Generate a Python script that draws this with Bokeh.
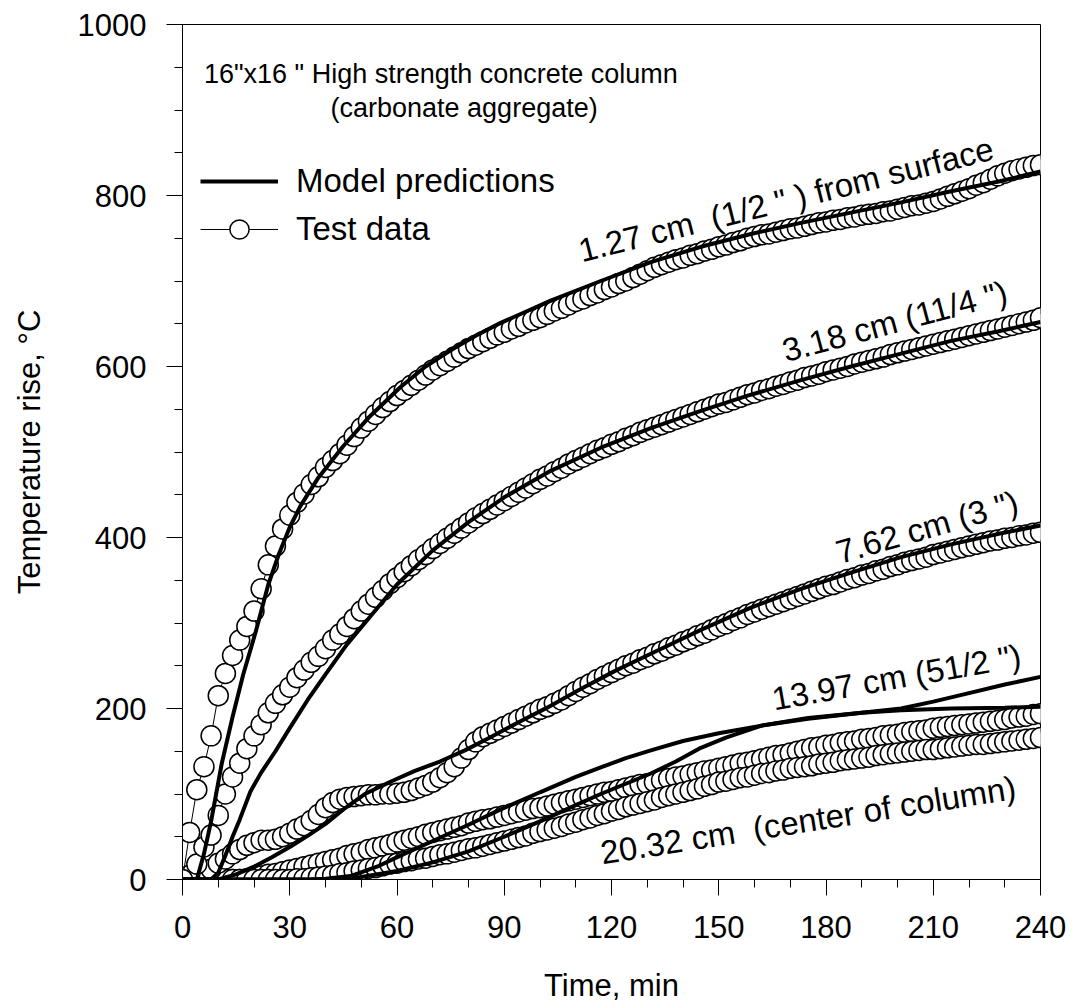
from bokeh.plotting import figure
from bokeh.models import Label, Legend, LegendItem, FixedTicker, Range1d
from bokeh.embed import file_html
from bokeh.resources import INLINE

FONT = "Liberation Sans"

# ---- data -------------------------------------------------------------
time = list(range(0, 241, 2))

test_127 = [0, 55, 105, 132, 168, 215, 241, 262, 280, 296,
            314, 340, 368, 390, 410, 426, 441, 451, 462, 471,
            482, 490, 498, 508, 518, 528, 536, 544, 552, 559,
            566, 572, 578, 584, 590, 596, 601, 606, 611, 616,
            621, 625, 629, 633, 637, 640, 644, 647, 651, 654,
            657, 661, 665, 668, 672, 676, 679, 683, 686, 690,
            693, 697, 700, 704, 708, 712, 716, 719, 722, 725,
            727, 730, 732, 735, 737, 740, 742, 745, 747, 750,
            752, 754, 755, 757, 759, 761, 762, 764, 766, 768,
            769, 771, 772, 774, 775, 777, 778, 779, 781, 782,
            784, 786, 788, 789, 791, 793, 796, 799, 802, 805,
            808, 812, 815, 819, 823, 826, 829, 831, 833, 835,
            836]

test_318 = [0, 5, 18, 38, 52, 75, 100, 120, 136, 153,
            168, 181, 195, 206, 216, 225, 236, 245, 254, 261,
            270, 280, 287, 296, 305, 314, 322, 330, 338, 346,
            353, 360, 367, 374, 380, 387, 393, 399, 405, 411,
            417, 423, 428, 433, 438, 443, 448, 453, 458, 463,
            468, 472, 477, 481, 486, 490, 494, 498, 502, 505,
            509, 512, 516, 519, 523, 526, 529, 532, 535, 538,
            541, 544, 547, 550, 553, 556, 558, 561, 564, 567,
            569, 572, 574, 577, 579, 582, 584, 587, 589, 591,
            594, 596, 598, 600, 603, 605, 607, 609, 611, 614,
            616, 618, 620, 622, 624, 626, 628, 630, 632, 634,
            636, 638, 640, 642, 644, 646, 648, 650, 652, 654,
            657]

test_762 = [0, 0, 2, 5, 12, 19, 24, 30, 35, 40,
            43, 46, 46, 47, 50, 54, 59, 63, 69, 76,
            84, 90, 94, 96, 97, 98, 99, 99, 100, 100,
            101, 102, 104, 107, 110, 114, 119, 125, 132, 142,
            152, 161, 167, 171, 175, 179, 183, 187, 191, 195,
            199, 202, 206, 210, 215, 220, 225, 229, 234, 238,
            242, 246, 250, 253, 257, 260, 264, 267, 271, 274,
            278, 281, 285, 288, 292, 296, 299, 303, 306, 310,
            313, 316, 319, 322, 325, 328, 331, 334, 337, 340,
            343, 345, 348, 351, 353, 356, 358, 361, 363, 366,
            368, 371, 373, 375, 377, 380, 382, 384, 386, 388,
            390, 392, 394, 396, 397, 399, 400, 402, 403, 405,
            406]

test_1397 = [0, 0, 0, 0, 0, 0, 0, 0, 0, 1,
             3, 4, 6, 7, 9, 11, 13, 15, 17, 19,
             21, 23, 25, 28, 30, 32, 35, 37, 39, 41,
             44, 46, 48, 50, 53, 55, 57, 59, 61, 63,
             66, 68, 70, 71, 73, 75, 77, 79, 81, 83,
             84, 86, 88, 90, 92, 94, 96, 98, 100, 102,
             103, 105, 107, 109, 111, 112, 114, 116, 118, 120,
             121, 123, 125, 127, 128, 130, 132, 134, 136, 137,
             139, 141, 143, 145, 146, 148, 150, 152, 154, 155,
             157, 158, 160, 161, 162, 164, 165, 166, 168, 169,
             170, 172, 173, 174, 175, 177, 178, 179, 180, 181,
             182, 183, 184, 185, 186, 187, 189, 190, 191, 193,
             194]

test_2032 = [0, 0, 0, 0, 0, 0, 0, 0, 0, 0,
             0, 0, 0, 0, 0, 0, 1, 1, 2, 3,
             4, 5, 7, 8, 10, 11, 13, 14, 16, 18,
             19, 21, 22, 24, 25, 27, 29, 30, 32, 34,
             36, 37, 39, 41, 43, 45, 47, 49, 51, 54,
             56, 58, 60, 62, 65, 67, 70, 72, 75, 77,
             80, 82, 85, 87, 89, 91, 93, 96, 98, 100,
             102, 104, 106, 109, 111, 114, 115, 117, 119, 120,
             122, 124, 125, 127, 128, 130, 131, 132, 133, 135,
             136, 137, 139, 140, 141, 142, 143, 145, 146, 147,
             148, 149, 150, 151, 152, 152, 153, 154, 155, 156,
             157, 158, 158, 159, 160, 161, 162, 163, 164, 165,
             166]

model_127_t = [0, 4, 6, 8, 11, 14, 17, 20.5, 24, 27, 30, 33, 38, 45, 52, 61, 68, 75, 82, 89,
               96, 103, 117, 131, 145, 159, 173, 187, 201, 215, 228, 240]
model_127 = [0, 0, 30, 68, 136, 190, 240, 290, 345, 381, 412, 437, 470, 507, 540, 576, 600, 619,
             636, 651, 664, 677, 700, 722, 740, 755, 768, 780, 792, 805, 816, 828]

model_318_t = [0, 8, 10, 12, 14, 16, 19, 22, 26, 30, 35, 40, 46, 52, 60, 70, 80, 90,
               103, 117, 131, 145, 159, 173, 187, 201, 215, 228, 240]
model_318 = [0, 0, 8, 28, 50, 70, 103, 125, 150, 177, 210, 240, 275, 305, 345, 385, 418, 447,
             478, 505, 528, 548, 567, 584, 600, 615, 630, 641, 652]

model_762_t = [0, 10, 15, 20, 25, 30, 35, 40, 45, 51, 58, 65, 72, 79, 86, 94, 102, 111,
               121, 131, 145, 159, 173, 187, 201, 215, 228, 240]
model_762 = [0, 0, 6, 15, 26, 38, 51, 65, 82, 100, 114, 127, 138, 151, 166, 184, 201, 222,
             244, 264, 292, 318, 340, 359, 377, 392, 404, 414]

model_1397_t = [0, 35, 40, 47, 55, 62, 70, 80, 89, 100, 110, 117, 124, 131, 140, 150, 162,
                175, 190, 201, 210, 220, 230, 240]
model_1397 = [0, 0, 1, 4, 16, 30, 45, 64, 82, 102, 120, 131, 142, 151, 162, 171, 180,
              188, 195, 200, 208, 218, 228, 237]

model_2032_t = [0, 40, 50, 60, 70, 80, 90, 100, 110, 117, 124, 131, 138, 145, 152, 162,
                175, 190, 201, 215, 230, 240]
model_2032 = [0, 0, 3, 10, 20, 33, 50, 68, 87, 100, 112, 124, 138, 154, 166, 180,
              189, 195, 198, 200, 201, 202]

x_ticks = [0, 30, 60, 90, 120, 150, 180, 210, 240]
x_minor = list(range(0, 241, 10))
y_ticks = [0, 200, 400, 600, 800, 1000]
y_minor = list(range(0, 1001, 50))

NB = "\u00a0"
# label text, anchor (time, temperature), angle in degrees
curve_labels = [
    ("1.27 cm " + NB + "(1/2 \" ) from surface", 111, 735, 14),
    ("3.18 cm (11/4 \")", 168, 618, 15),
    ("7.62 cm (3 \")", 183, 382, 16),
    ("13.97 cm (51/2 \")", 165, 211, 10),
    ("20.32 cm " + NB + "(center of column)", 117, 31, 9),
]

# ---- figure -----------------------------------------------------------
p = figure(width=1072, height=1005, x_range=Range1d(0, 240), y_range=Range1d(0, 1000),
           output_backend="svg", toolbar_location=None,
           min_border_left=182, min_border_right=32, min_border_top=24, min_border_bottom=126)
p.xgrid.visible = False
p.ygrid.visible = False
p.outline_line_color = "black"
p.outline_line_width = 1
p.outline_line_alpha = 1
p.background_fill_color = "white"
p.border_fill_color = "white"

p.xaxis.ticker = FixedTicker(ticks=x_ticks, minor_ticks=x_minor)
p.yaxis.ticker = FixedTicker(ticks=y_ticks, minor_ticks=y_minor)
p.xaxis.axis_label = "Time, min"
p.yaxis.axis_label = "Temperature rise, °C"
for ax in (p.xaxis[0], p.yaxis[0]):
    ax.major_tick_in = 0
    ax.major_tick_out = 16
    ax.minor_tick_in = 0
    ax.minor_tick_out = 8
    ax.axis_line_color = "black"
    ax.major_tick_line_color = "black"
    ax.minor_tick_line_color = "black"
    ax.axis_line_width = 1
    ax.major_label_text_font = FONT
    ax.major_label_text_font_size = "31px"
    ax.major_label_text_color = "black"
    ax.axis_label_text_font = FONT
    ax.axis_label_text_font_size = "31px"
    ax.axis_label_text_font_style = "normal"
    ax.axis_label_text_color = "black"
p.xaxis.major_label_standoff = 20
p.yaxis.major_label_standoff = 20
p.xaxis.axis_label_standoff = 27
p.yaxis.axis_label_standoff = 28

marker_kw = dict(marker="circle", size=20, fill_color="white", line_color="black", line_width=1.5)
series = [test_1397, test_2032, test_762, test_318, test_127]
scat = None
thin = None
for vals in series:
    thin = p.line(time, vals, line_color="black", line_width=1)
    scat = p.scatter(time, vals, **marker_kw)

line_kw = dict(line_color="black", line_width=4)
models = [(model_127_t, model_127), (model_318_t, model_318), (model_762_t, model_762),
          (model_1397_t, model_1397), (model_2032_t, model_2032)]
model_r = None
for mt, mv in models:
    r = p.line(mt, mv, **line_kw)
    if model_r is None:
        model_r = r

legend = Legend(items=[LegendItem(label="Model predictions", renderers=[model_r]),
                       LegendItem(label="Test data", renderers=[thin, scat])],
                location=(18, 626), orientation="vertical",
                glyph_width=78, glyph_height=48, spacing=0, padding=0, margin=0,
                label_standoff=18, label_text_font=FONT, label_text_font_size="33px",
                label_text_color="black", label_text_baseline="middle",
                background_fill_alpha=0, border_line_alpha=0)
p.add_layout(legend, "center")

p.add_layout(Label(x=6, y=942, text="16\"x16 \" High strength concrete column",
                   text_font=FONT, text_font_size="27px", text_color="black",
                   text_align="left", text_baseline="alphabetic"))
p.add_layout(Label(x=41.4, y=902, text="(carbonate aggregate)",
                   text_font=FONT, text_font_size="27px", text_color="black",
                   text_align="left", text_baseline="alphabetic"))

for txt, tx, ty, ang in curve_labels:
    p.add_layout(Label(x=tx, y=ty, text=txt, angle=ang, angle_units="deg",
                       text_font=FONT, text_font_size="33px", text_color="black",
                       text_align="left", text_baseline="alphabetic"))

open("out.html", "w").write(file_html(p, INLINE))
